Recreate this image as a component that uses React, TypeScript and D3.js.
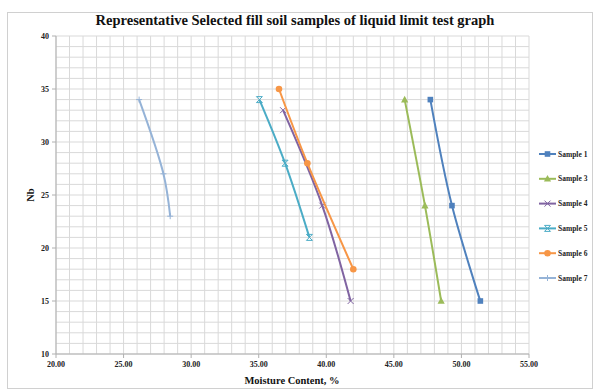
import React from "react";
import * as d3 from "d3";

const W = 594;
const H = 390;

const seriesNames = ["Sample 1", "Sample 3", "Sample 4", "Sample 5", "Sample 6", "Sample 7"];
const seriesColors = ["#4F81BD", "#9BBB59", "#8064A2", "#4BACC6", "#F79646", "#95B3D7"];
const seriesMarkers = ["square", "triangle", "x", "star", "circle", "plus"];

const s1X = [47.7, 49.3, 51.4];
const s1Y = [34, 24, 15];
const s3X = [45.8, 47.3, 48.5];
const s3Y = [34, 24, 15];
const s4X = [36.8, 39.7, 41.8];
const s4Y = [33, 24, 15];
const s5X = [35.05, 36.95, 38.75];
const s5Y = [34, 28, 21];
const s6X = [36.5, 38.6, 42.0];
const s6Y = [35, 28, 18];
const s7X = [26.15, 27.95, 28.45];
const s7Y = [34, 27, 23];

const seriesXs = [s1X, s3X, s4X, s5X, s6X, s7X];
const seriesYs = [s1Y, s3Y, s4Y, s5Y, s6Y, s7Y];

const xTicks = [20, 25, 30, 35, 40, 45, 50, 55];
const yTicks = [10, 15, 20, 25, 30, 35, 40];

const title = "Representative Selected fill soil samples of liquid limit test graph";
const xTitle = "Moisture Content, %";
const yTitle = "Nb";

const FONT = "'Liberation Serif', 'Times New Roman', serif";

function Marker({ type, x, y, color }: { type: string; x: number; y: number; color: string }) {
  const s = 3;
  switch (type) {
    case "square":
      return <rect x={x - 2.8} y={y - 2.8} width={5.6} height={5.6} fill={color} />;
    case "triangle":
      return <path d={`M${x},${y - 3.8}L${x + 3.6},${y + 2.8}L${x - 3.6},${y + 2.8}Z`} fill={color} />;
    case "circle":
      return <circle cx={x} cy={y} r={3.3} fill={color} />;
    case "x":
      return (
        <path d={`M${x - s},${y - s}L${x + s},${y + s}M${x - s},${y + s}L${x + s},${y - s}`} stroke={color} strokeWidth={1} fill="none" />
      );
    case "star":
      return (
        <path
          d={`M${x - s},${y - s}L${x + s},${y + s}M${x - s},${y + s}L${x + s},${y - s}M${x - s},${y - s}L${x + s},${y - s}M${x - s},${y + s}L${x + s},${y + s}`}
          stroke={color}
          strokeWidth={1}
          fill="none"
        />
      );
    case "plus":
      return <path d={`M${x - s},${y}L${x + s},${y}M${x},${y - s}L${x},${y + s}`} stroke={color} strokeWidth={1} fill="none" />;
    default:
      return null;
  }
}

export default function App() {
  const x = d3.scaleLinear().domain([20, 55]).range([56, 529]);
  const y = d3.scaleLinear().domain([10, 40]).range([354, 36]);

  const minorX = d3.range(20, 56, 1);
  const minorY = d3.range(10, 41, 1);

  const line = d3
    .line<[number, number]>()
    .x((d) => x(d[0]))
    .y((d) => y(d[1]))
    .curve(d3.curveCatmullRom.alpha(0.5));

  const legendY0 = 154;
  const legendStep = 24.8;

  return (
    <svg
      width={W}
      height={H}
      style={{ position: "absolute", left: 0, top: 0, background: "#fff" }}
      fontFamily={FONT}
    >
      <rect x={7.5} y={12.5} width={585} height={376} fill="#fff" stroke="#d0d0d0" />

      {/* grid */}
      <g>
        {minorX.map((v) => (
          <line key={"gx" + v} x1={x(v)} x2={x(v)} y1={y(10)} y2={y(40)} stroke="#d9d9d9" strokeWidth={1} />
        ))}
        {minorY.map((v) => (
          <line key={"gy" + v} x1={x(20)} x2={x(55)} y1={y(v)} y2={y(v)} stroke="#d9d9d9" strokeWidth={1} />
        ))}
      </g>

      {/* axes */}
      <line x1={x(20)} x2={x(20)} y1={y(10)} y2={y(40)} stroke="#b0b0b0" />
      <line x1={x(20)} x2={x(55)} y1={y(10)} y2={y(10)} stroke="#b0b0b0" />
      {yTicks.map((v) => (
        <g key={"yt" + v}>
          <line x1={x(20) - 4} x2={x(20)} y1={y(v)} y2={y(v)} stroke="#b0b0b0" />
          <text x={x(20) - 7} y={y(v)} dy="0.35em" textAnchor="end" fontSize={8} fontWeight="bold" fill="#222">
            {v}
          </text>
        </g>
      ))}
      {xTicks.map((v) => (
        <g key={"xt" + v}>
          <line x1={x(v)} x2={x(v)} y1={y(10)} y2={y(10) + 4} stroke="#b0b0b0" />
          <text x={x(v)} y={y(10) + 13} textAnchor="middle" fontSize={8} fontWeight="bold" fill="#222">
            {v.toFixed(2)}
          </text>
        </g>
      ))}

      {/* series */}
      {seriesNames.map((name, i) => {
        const pts: [number, number][] = seriesXs[i].map((vx, j) => [vx, seriesYs[i][j]]);
        return (
          <g key={name}>
            <path d={line(pts) || ""} fill="none" stroke={seriesColors[i]} strokeWidth={2} />
            {pts.map((p, j) => (
              <Marker key={j} type={seriesMarkers[i]} x={x(p[0])} y={y(p[1])} color={seriesColors[i]} />
            ))}
          </g>
        );
      })}

      {/* titles */}
      <text x={295} y={25} textAnchor="middle" fontSize={14.5} fontWeight="bold" fill="#111">
        {title}
      </text>
      <text x={292} y={384} textAnchor="middle" fontSize={10.5} fontWeight="bold" fill="#111">
        {xTitle}
      </text>
      <text transform={`translate(34,${y(25)}) rotate(-90)`} textAnchor="middle" fontSize={10.5} fontWeight="bold" fill="#111">
        {yTitle}
      </text>

      {/* legend */}
      {seriesNames.map((name, i) => {
        const ly = legendY0 + i * legendStep;
        return (
          <g key={"lg" + name}>
            <line x1={539} x2={556} y1={ly} y2={ly} stroke={seriesColors[i]} strokeWidth={2} />
            <Marker type={seriesMarkers[i]} x={547.5} y={ly} color={seriesColors[i]} />
            <text x={558} y={ly} dy="0.35em" fontSize={7.5} fontWeight="bold" fill="#222">
              {name}
            </text>
          </g>
        );
      })}
    </svg>
  );
}
